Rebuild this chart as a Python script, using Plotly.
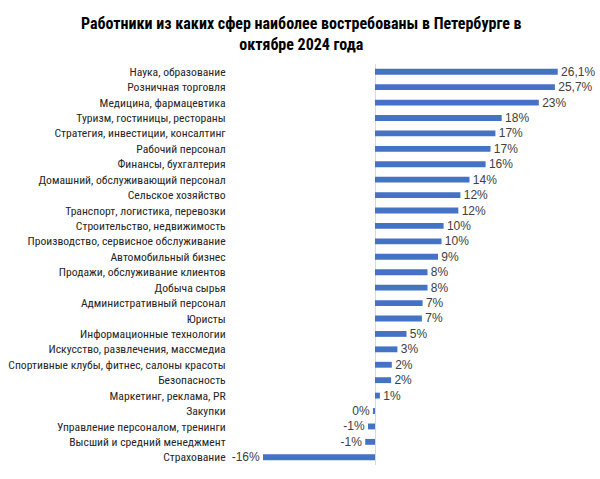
import plotly.graph_objects as go

categories = [
    "Наука, образование",
    "Розничная торговля",
    "Медицина, фармацевтика",
    "Туризм, гостиницы, рестораны",
    "Стратегия, инвестиции, консалтинг",
    "Рабочий персонал",
    "Финансы, бухгалтерия",
    "Домашний, обслуживающий персонал",
    "Сельское хозяйство",
    "Транспорт, логистика, перевозки",
    "Строительство, недвижимость",
    "Производство, сервисное обслуживание",
    "Автомобильный бизнес",
    "Продажи, обслуживание клиентов",
    "Добыча сырья",
    "Административный персонал",
    "Юристы",
    "Информационные технологии",
    "Искусство, развлечения, массмедиа",
    "Спортивные клубы, фитнес, салоны красоты",
    "Безопасность",
    "Маркетинг, реклама, PR",
    "Закупки",
    "Управление персоналом, тренинги",
    "Высший и средний менеджмент",
    "Страхование",
]

values = [26.1, 25.7, 23.4, 18.1, 17.2, 16.5, 15.8, 13.5, 12.2, 11.9, 9.8, 9.5,
          9.0, 7.5, 7.5, 6.8, 6.7, 4.5, 3.2, 2.4, 2.3, 0.7, -0.3, -1.0, -1.4, -16.0]

value_labels = ["26,1%", "25,7%", "23%", "18%", "17%", "17%", "16%", "14%", "12%",
                "12%", "10%", "10%", "9%", "8%", "8%", "7%", "7%", "5%", "3%", "2%",
                "2%", "1%", "0%", "-1%", "-1%", "-16%"]

title_text = "Работники из каких сфер наиболее востребованы в Петербурге в<br>октябре 2024 года"

narrow = "Liberation Sans Narrow, Arial Narrow, Roboto Condensed, Liberation Sans, Arial, sans-serif"

# pad labels away from bar ends
display_text = [(" " + t) if v >= 0 else (t + " ") for t, v in zip(value_labels, values)]

fig = go.Figure(go.Bar(
    x=values,
    y=categories,
    orientation="h",
    marker=dict(color="#4472C4", line=dict(width=0)),
    width=0.38,
    text=display_text,
    textposition="outside",
    constraintext="none",
    cliponaxis=False,
    textfont=dict(family="Liberation Sans, Arial, sans-serif", size=12, color="#404040"),
    hoverinfo="skip",
))

fig.update_layout(
    width=600, height=479,
    margin=dict(l=235, r=15, t=64, b=14, autoexpand=False),
    paper_bgcolor="white",
    plot_bgcolor="white",
    showlegend=False,
    annotations=[dict(
        text="<b>" + title_text + "</b>",
        xref="paper", yref="paper",
        x=66 / 350, y=1.074,
        xanchor="center", yanchor="middle",
        showarrow=False,
        align="center",
        font=dict(family=narrow, size=16, color="#000000"),
    )],
)

fig.update_xaxes(
    range=[-20, 30],
    automargin=False,
    showgrid=False,
    showticklabels=False,
    zeroline=True,
    zerolinecolor="#D9D9D9",
    zerolinewidth=1,
    showline=False,
    fixedrange=True,
)

fig.update_yaxes(
    autorange="reversed",
    automargin=False,
    showgrid=False,
    showline=False,
    zeroline=False,
    ticks="outside",
    ticklen=6,
    tickcolor="rgba(0,0,0,0)",
    tickfont=dict(family=narrow, size=11.65, color="#262626"),
    fixedrange=True,
)

fig.write_html("out.html")
